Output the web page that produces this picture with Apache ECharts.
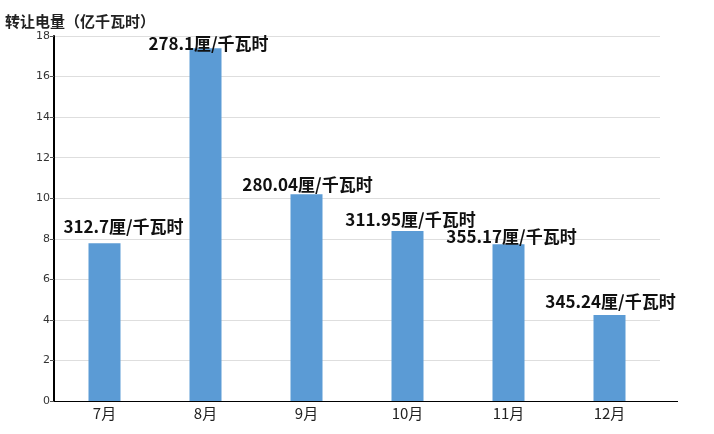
<!DOCTYPE html>
<html>
<head>
<meta charset="utf-8">
<script src="https://cdn.jsdelivr.net/npm/echarts@6/dist/echarts.min.js"></script>
<style>html,body{margin:0;padding:0;background:#fff}#c{width:714px;height:434px}</style>
</head>
<body>
<div id="c"></div>
<script>
const categories = ['7月','8月','9月','10月','11月','12月'];
const volumes = [7.78, 17.4, 10.2, 8.38, 7.73, 4.24];
const prices = ['312.7','278.1','280.04','311.95','355.17','345.24'];
const priceUnit = '厘/千瓦时';
const yTicks = {min: 0, max: 18, interval: 2};

const labelOffsets = [[19,-3],[3,9],[1,4],[3,2],[3,6],[1,0]];

const chart = echarts.init(document.getElementById('c'));
chart.setOption({
  animation: false,
  title: {
    text: '转让电量（亿千瓦时）',
    left: 0, top: 9,
    textStyle: {fontFamily: 'Noto Sans CJK SC', fontSize: 15, fontWeight: 'bold', color: '#222'}
  },
  grid: {left: 54, right: 54, top: 36, bottom: 33},
  xAxis: {
    type: 'category',
    data: categories,
    axisLine: {lineStyle: {color: '#000', width: 1}},
    axisTick: {show: false},
    axisLabel: {fontFamily: 'Noto Sans CJK SC', fontSize: 15, color: '#222', margin: 5}
  },
  yAxis: {
    type: 'value',
    min: yTicks.min, max: yTicks.max, interval: yTicks.interval,
    axisLine: {show: true, lineStyle: {color: '#000', width: 2}},
    axisTick: {show: true, length: 4, lineStyle: {color: '#555'}},
    axisLabel: {fontFamily: 'DejaVu Sans', fontSize: 11, color: '#333', margin: 4},
    splitLine: {lineStyle: {color: '#dedede'}}
  },
  series: [{
    type: 'bar',
    barWidth: 32,
    itemStyle: {color: '#5b9bd5'},
    data: volumes.map((v, i) => ({
      value: v,
      label: {
        show: true,
        position: 'top',
        offset: labelOffsets[i],
        formatter: prices[i] + priceUnit,
        fontFamily: 'Noto Sans CJK SC',
        fontSize: 17,
        fontWeight: 'bold',
        color: '#111'
      }
    }))
  }]
});

// extend the x-axis baseline a little past the plot area, as in the reference
const y0 = chart.convertToPixel({yAxisIndex: 0}, 0);
const xEnd = 714 - 54;
chart.setOption({
  graphic: [{
    type: 'line',
    shape: {x1: xEnd, y1: Math.round(y0) + 0.5, x2: xEnd + 18, y2: Math.round(y0) + 0.5},
    style: {stroke: '#000', lineWidth: 1}
  }]
});
</script>
</body>
</html>
